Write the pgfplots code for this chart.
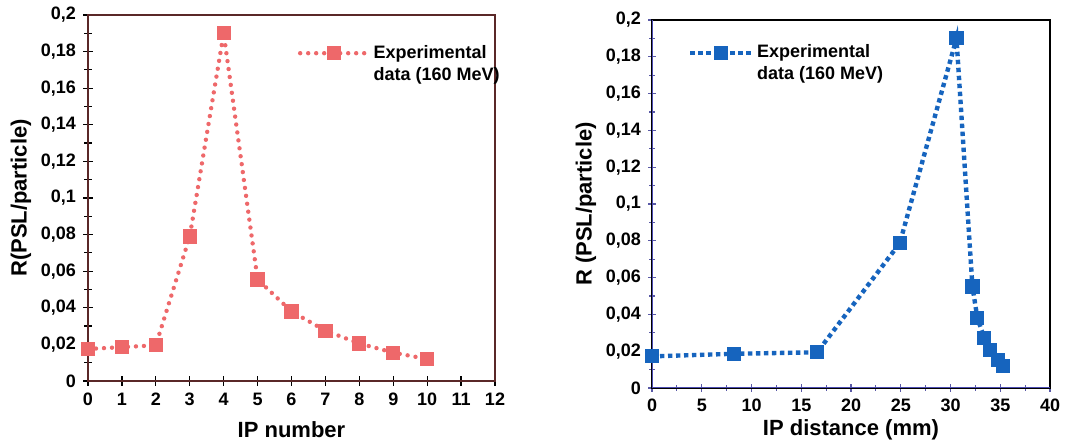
\documentclass[border=0pt]{standalone}
\usepackage{pgfplots}
\pgfplotsset{compat=1.18}
\usepackage{fontspec}
\setmainfont{Liberation Sans}
\definecolor{salmon}{RGB}{238,104,106}
\definecolor{ipblue}{RGB}{22,100,190}
\definecolor{frameL}{RGB}{90,40,40}
\pgfplotstableread{
x y
0 0.0175
1 0.0185
2 0.0195
3 0.079
4 0.190
5 0.0555
6 0.038
7 0.0275
8 0.0205
9 0.0155
10 0.012
}\leftdata
\pgfplotstableread{
x y
0 0.0172
8.26 0.0186
16.6 0.0194
24.9 0.0787
30.6 0.190
32.2 0.0552
32.7 0.038
33.4 0.0272
34.0 0.0205
34.8 0.0154
35.3 0.0121
}\rightdata
\begin{document}
\begin{tikzpicture}
\useasboundingbox (0,0) rectangle (540pt,221.5pt);
\pgfplotsset{
  every axis/.append style={
    scale only axis,
    /pgf/number format/assume math mode=true,
    font=\bfseries\fontsize{9}{10}\selectfont,
    ticklabel style={font=\bfseries\fontsize{9}{10}\selectfont},
    label style={font=\bfseries\fontsize{11}{12}\selectfont},
    ymin=0, ymax=0.2,
    ytick={0,0.02,0.04,0.06,0.08,0.1,0.12,0.14,0.16,0.18,0.2},
    yticklabels={0,{0,02},{0,04},{0,06},{0,08},{0,1},{0,12},{0,14},{0,16},{0,18},{0,2}},
    minor y tick num=1,
    tick align=center,
    tick pos=left,
    legend cell align=left,
    legend style={draw=none, fill=none, font=\bfseries\fontsize{9}{10.5}\selectfont, inner sep=1pt, row sep=-1pt,
      nodes={inner xsep=1.5pt}},
  }
}
\begin{axis}[
  at={(44pt,31pt)}, anchor=south west,
  width=203.5pt, height=183pt,
  xmin=0, xmax=12, xtick={0,1,...,12},
  axis line style={frameL, line width=0.8pt},
  major tick length=5pt, minor tick length=4pt,
  tick style={black, line width=0.6pt},
  xlabel={IP number}, ylabel={R(PSL/particle)},
  xlabel style={yshift=-1pt},
  ylabel style={yshift=-2pt},
  legend style={at={(0.51,0.935)}, anchor=north west},
  legend image code/.code={\draw[#1,mark repeat=2,mark phase=2] plot coordinates {(0cm,0cm)(0.6cm,0cm)(1.2cm,0cm)};},
]
\addplot[salmon, line width=2.2pt, dash pattern=on 0pt off 4pt, line cap=round, mark=square*, mark size=3.3pt, mark options={solid, fill=salmon, draw=salmon, line width=0.5pt}] table {\leftdata};
\addlegendentry{Experimental}
\addlegendimage{empty legend}
\addlegendentry{data (160 MeV)}
\end{axis}
\begin{axis}[
  at={(326pt,27.5pt)}, anchor=south west,
  width=199pt, height=184pt,
  xmin=0, xmax=40, xtick={0,5,...,40},
  minor x tick num=1,
  axis line style={black, line width=0.8pt},
  major tick length=4pt, minor tick length=3pt,
  tick style={gray!70!blue, line width=0.6pt},
  xlabel={IP distance (mm)}, ylabel={R (PSL/particle)},
  xlabel style={yshift=3pt},
  ylabel style={yshift=-2pt},
  legend style={at={(0.085,0.95)}, anchor=north west},
  legend image code/.code={\draw[#1,mark repeat=2,mark phase=2] plot coordinates {(0cm,0cm)(0.54cm,0cm)(1.08cm,0cm)};},
]
\draw[gray!60!blue, line width=0.8pt] (axis cs:0,0) -- (axis cs:40,0);
\draw[gray!60!blue, line width=0.8pt] (axis cs:0,0) -- (axis cs:0,0.2);
\addplot[ipblue, line width=2.2pt, dash pattern=on 2.2pt off 1.8pt, mark=square*, mark size=3.3pt, mark options={solid, fill=ipblue, draw=ipblue, line width=0.5pt}] table {\rightdata};
\addlegendentry{Experimental}
\addlegendimage{empty legend}
\addlegendentry{data (160 MeV)}
\end{axis}
\end{tikzpicture}
\end{document}
